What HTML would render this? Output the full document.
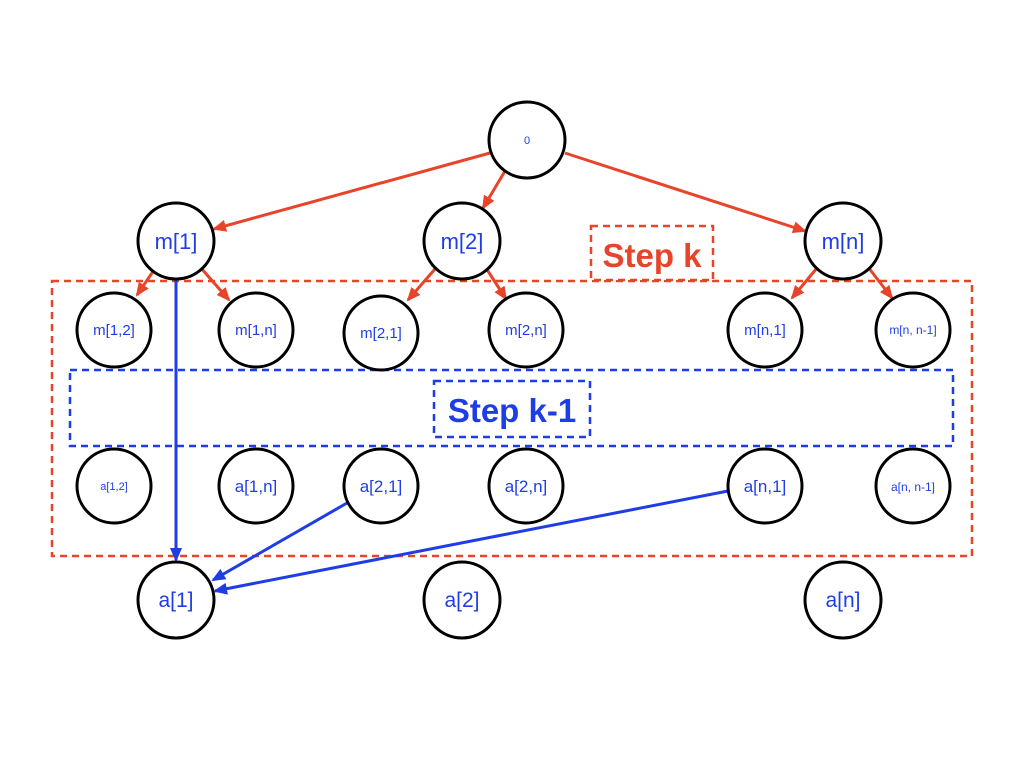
<!DOCTYPE html>
<html><head><meta charset="utf-8"><style>html,body{margin:0;padding:0;background:#fff}</style></head>
<body>
<svg width="1024" height="768" viewBox="0 0 1024 768" xmlns="http://www.w3.org/2000/svg" font-family="Liberation Sans, sans-serif">
<defs>
<marker id="ar" markerWidth="14" markerHeight="14" refX="12" refY="7" orient="auto" markerUnits="userSpaceOnUse"><path d="M0,1 L14,7 L0,13 z" fill="#e8442a"/></marker>
<marker id="ab" markerWidth="14" markerHeight="14" refX="12" refY="7" orient="auto" markerUnits="userSpaceOnUse"><path d="M0,1 L14,7 L0,13 z" fill="#1f3de6"/></marker>
</defs>
<rect x="52" y="281" width="920" height="275" fill="none" stroke="#e8442a" stroke-width="2.5" stroke-dasharray="7,5"/>
<rect x="70" y="370" width="883" height="76" fill="none" stroke="#1f3de6" stroke-width="2.5" stroke-dasharray="7,5"/>
<rect x="591" y="226" width="122" height="54" fill="#fff" stroke="#e8442a" stroke-width="2.5" stroke-dasharray="7,5"/>
<text x="652" y="267" font-size="33" font-weight="bold" fill="#e8442a" text-anchor="middle">Step k</text>
<rect x="434" y="381" width="156" height="56" fill="#fff" stroke="#1f3de6" stroke-width="2.5" stroke-dasharray="7,5"/>
<text x="512" y="422" font-size="33" font-weight="bold" fill="#1f3de6" text-anchor="middle">Step k-1</text>
<g stroke="#e8442a" stroke-width="3" marker-end="url(#ar)">
<line x1="490" y1="153" x2="214" y2="229"/>
<line x1="505" y1="171" x2="483" y2="208"/>
<line x1="565" y1="153" x2="805" y2="231"/>
<line x1="154" y1="270" x2="137" y2="295"/>
<line x1="201" y1="268" x2="229" y2="300"/>
<line x1="435" y1="269" x2="408" y2="300"/>
<line x1="486" y1="268" x2="506" y2="299"/>
<line x1="817" y1="268" x2="792" y2="298"/>
<line x1="868" y1="267" x2="892" y2="298"/>
</g>
<g stroke="#1f3de6" stroke-width="3" marker-end="url(#ab)">
<line x1="176" y1="280" x2="176" y2="560"/>
<line x1="347" y1="503" x2="213" y2="580"/>
<line x1="728" y1="491" x2="215" y2="591"/>
</g>
<g fill="#fff" stroke="#000" stroke-width="3">
<circle cx="527" cy="140" r="38"/>
<circle cx="176" cy="241" r="38"/><circle cx="462" cy="241" r="38"/><circle cx="843" cy="241" r="38"/>
<circle cx="114" cy="330" r="37"/><circle cx="256" cy="330" r="37"/><circle cx="381" cy="333" r="37"/><circle cx="526" cy="330" r="37"/><circle cx="765" cy="330" r="37"/><circle cx="913" cy="330" r="37"/>
<circle cx="114" cy="486" r="37"/><circle cx="256" cy="486" r="37"/><circle cx="381" cy="486" r="37"/><circle cx="526" cy="486" r="37"/><circle cx="765" cy="486" r="37"/><circle cx="913" cy="486" r="37"/>
<circle cx="176" cy="600" r="38"/><circle cx="462" cy="600" r="38"/><circle cx="843" cy="600" r="38"/>
</g>
<g fill="#1f3de6" text-anchor="middle">
<text x="527" y="144" font-size="11">0</text>
<text x="176" y="249" font-size="22">m[1]</text><text x="462" y="249" font-size="22">m[2]</text><text x="843" y="249" font-size="22">m[n]</text>
<text x="114" y="335" font-size="15">m[1,2]</text><text x="256" y="335" font-size="15">m[1,n]</text><text x="381" y="338" font-size="15">m[2,1]</text><text x="526" y="335" font-size="15">m[2,n]</text><text x="765" y="335" font-size="15">m[n,1]</text><text x="913" y="334" font-size="12">m[n, n-1]</text>
<text x="114" y="490" font-size="11">a[1,2]</text><text x="256" y="492" font-size="17">a[1,n]</text><text x="381" y="492" font-size="17">a[2,1]</text><text x="526" y="492" font-size="17">a[2,n]</text><text x="765" y="492" font-size="17">a[n,1]</text><text x="913" y="491" font-size="12">a[n, n-1]</text>
<text x="176" y="607" font-size="21">a[1]</text><text x="462" y="607" font-size="21">a[2]</text><text x="843" y="607" font-size="21">a[n]</text>
</g>
</svg>
</body></html>
